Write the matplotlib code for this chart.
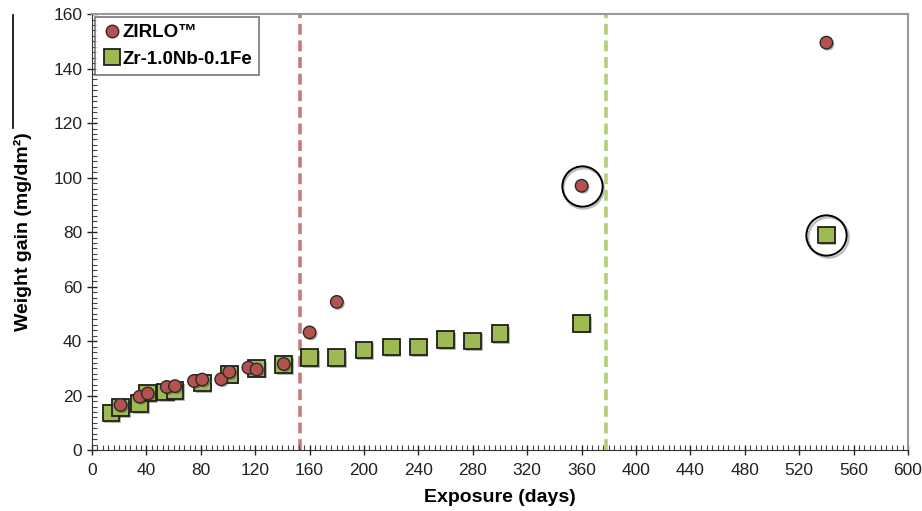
import matplotlib.pyplot as plt
import matplotlib.patheffects as pe
from matplotlib.lines import Line2D
from matplotlib.transforms import ScaledTranslation

# ZIRLO data
zirlo_days = [21, 35, 41, 55, 61, 75, 81, 95, 101, 115, 121, 141, 160, 180, 360, 540]
zirlo_gain = [16.6, 19.6, 20.8, 23.2, 23.5, 25.4, 25.9, 26.0, 28.7, 30.3, 29.6, 31.6,
              43.2, 54.4, 97.0, 149.5]

# Zr-1.0Nb-0.1Fe data
znb_days = [14, 21, 35, 41, 54, 61, 81, 101, 121, 141, 160, 180, 200, 220, 240, 260,
            280, 300, 360, 540]
znb_gain = [13.7, 15.6, 17.1, 21.0, 21.4, 21.8, 24.7, 27.8, 30.0, 31.4, 34.0, 34.0,
            36.7, 37.9, 37.9, 40.6, 40.0, 42.8, 46.5, 79.0]

# vertical markers and circled points
vline_zirlo = 153
vline_znb = 378
ring_days = [360, 540]
ring_gain = [97.0, 79.0]

red = '#b5524e'
green = '#9dbb52'

plt.rcParams['font.family'] = ['Liberation Sans Narrow', 'Liberation Sans', 'DejaVu Sans']

fig = plt.figure(figsize=(9.22, 5.11), dpi=100)
ax = fig.add_axes([0.0998, 0.119, 0.885, 0.8535])

shadow = [pe.SimplePatchShadow(offset=(1.2, -1.2), alpha=0.35), pe.Normal()]

ax.axvline(vline_zirlo, color='#c77b78', lw=2.6, ls=(0, (3, 1.6)), zorder=1)
ax.axvline(vline_znb, color='#b2cf78', lw=2.6, ls=(0, (3, 1.6)), zorder=1)

ax.plot(znb_days, znb_gain, ls='none', marker='s', ms=12, mfc=green, mec='#1f1f1f',
        mew=1.3, zorder=3, path_effects=shadow)
ax.plot(zirlo_days, zirlo_gain, ls='none', marker='o', ms=9, mfc=red, mec='#2a2a2a',
        mew=1.0, zorder=4, path_effects=shadow)
# rings with a soft offset shadow
ax.plot(ring_days, ring_gain, ls='none', marker='o', ms=29, mfc='none', mec='#bbbbbb',
        mew=1.6, zorder=5,
        transform=ax.transData + ScaledTranslation(1.3 / 72, -1.3 / 72, fig.dpi_scale_trans))
ax.plot(ring_days, ring_gain, ls='none', marker='o', ms=29, mfc='none', mec='black',
        mew=1.4, zorder=6)

ax.set_xlim(0, 600)
ax.set_ylim(0, 160)
ax.set_xticks(range(0, 601, 40))
ax.set_yticks(range(0, 161, 20))
ax.set_xticks(range(0, 601, 4), minor=True)
ax.set_yticks(range(0, 161, 2), minor=True)
ax.tick_params(which='major', direction='inout', length=7, width=1, labelsize=12.5,
               colors='#222222')
ax.tick_params(which='minor', direction='in', length=3.5, width=0.8, color='#444444')
ax.tick_params(axis='x', pad=6)

for side in ['top', 'right']:
    ax.spines[side].set_color('#999999')
    ax.spines[side].set_linewidth(1.5)
for side in ['left', 'bottom']:
    ax.spines[side].set_color('#333333')

ax.set_xlabel('Exposure (days)', fontsize=14, fontweight='bold', family='Liberation Sans',
              labelpad=8)
ax.set_ylabel('Weight gain (mg/dm²)', fontsize=14, fontweight='bold', family='Liberation Sans',
              labelpad=15)

handles = [
    Line2D([], [], ls='none', marker='o', ms=9, mfc=red, mec='#2a2a2a', mew=1.0),
    Line2D([], [], ls='none', marker='s', ms=12, mfc=green, mec='#1f1f1f', mew=1.3),
]
leg = ax.legend(handles, ['ZIRLO™', 'Zr-1.0Nb-0.1Fe'], loc='upper left',
                bbox_to_anchor=(0.0, 1.0), borderaxespad=0.15, frameon=True,
                fancybox=False, handletextpad=0.05, handlelength=1.0, borderpad=0.4,
                labelspacing=0.5,
                prop={'family': 'Liberation Sans', 'weight': 'bold', 'size': 13.5})
leg.get_frame().set_edgecolor('#555555')
leg.get_frame().set_linewidth(1.2)

# stray rule at the left edge of the original figure
fig.add_artist(Line2D([0.0138, 0.0138], [0.97, 0.75], color='black', lw=1.2))

fig.savefig('out.png', dpi=100)
